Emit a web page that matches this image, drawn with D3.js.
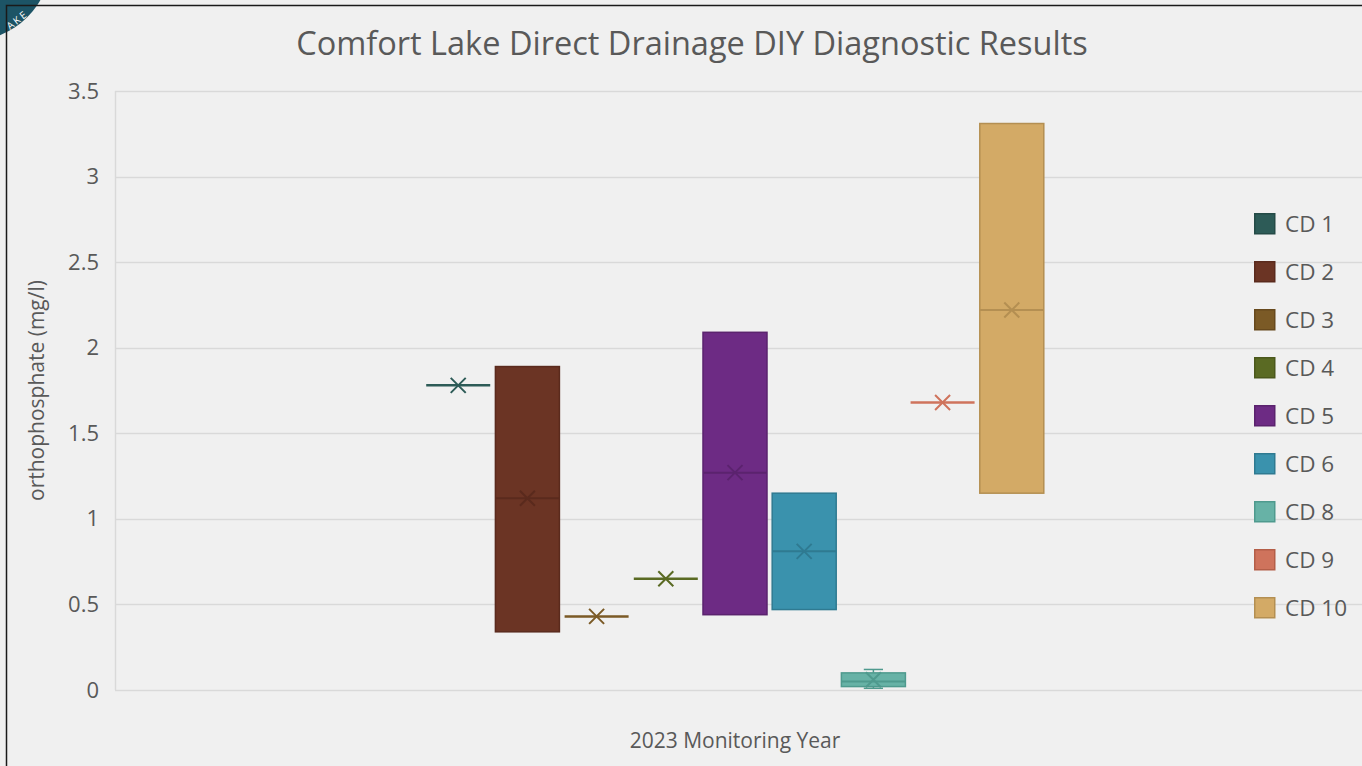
<!DOCTYPE html>
<html>
<head>
<meta charset="utf-8">
<script src="https://cdn.jsdelivr.net/npm/d3@7"></script>
<style>
  body { margin: 0; background: #f0f0f0; }
  svg { display: block; }
  text { font-family: "Open Sans", "Noto Sans", sans-serif; fill: #595959; }
</style>
</head>
<body>
<div id="chart"></div>
<script>
// data
let category = "2023 Monitoring Year";
let seriesNames = ["CD 1", "CD 2", "CD 3", "CD 4", "CD 5", "CD 6", "CD 8", "CD 9", "CD 10"];
let minVals  = [1.78, 0.34, 0.43, 0.65, 0.44, 0.47, 0.01, 1.68, 1.15];
let q1Vals   = [1.78, 0.34, 0.43, 0.65, 0.44, 0.47, 0.02, 1.68, 1.15];
let medVals  = [1.78, 1.12, 0.43, 0.65, 1.27, 0.81, 0.05, 1.68, 2.22];
let q3Vals   = [1.78, 1.89, 0.43, 0.65, 2.09, 1.15, 0.10, 1.68, 3.31];
let maxVals  = [1.78, 1.89, 0.43, 0.65, 2.09, 1.15, 0.12, 1.68, 3.31];
let meanVals = [1.78, 1.12, 0.43, 0.65, 1.27, 0.81, 0.06, 1.68, 2.22];
let yTicks = [0, 0.5, 1, 1.5, 2, 2.5, 3, 3.5];
let fills   = ["#2d5b57", "#6b3424", "#7b5a26", "#5a6a23", "#6d2b84", "#3a92ad", "#67b2a6", "#cf735c", "#d3aa66"];
let strokes = ["#254b47", "#5a2a1d", "#67491d", "#4b581c", "#5b236e", "#2f7a91", "#4f9a8e", "#b45e48", "#b48f52"];

let width = 1362;
let height = 766;
let plot = { left: 115, right: 1355, gridRight: 1362, top: 91, bottom: 690 };

let svg = d3.select("#chart").append("svg")
    .attr("width", width)
    .attr("height", height);

svg.append("rect").attr("width", width).attr("height", height).attr("fill", "#f0f0f0");

// scales
let x0 = d3.scaleBand().domain([category]).range([plot.left, plot.right]).paddingOuter(0.495);
let x1 = d3.scaleBand().domain(seriesNames).range([0, x0.bandwidth()]).paddingInner(0.075).paddingOuter(0.04);
let y = d3.scaleLinear().domain([0, 3.5]).range([plot.bottom, plot.top]);

// gridlines
svg.append("g").selectAll("line").data(yTicks).enter().append("line")
    .attr("x1", plot.left).attr("x2", plot.gridRight)
    .attr("y1", d => Math.round(y(d)) + 0.5).attr("y2", d => Math.round(y(d)) + 0.5)
    .attr("stroke", "#d9d9d9").attr("stroke-width", 1.5);

svg.append("line")
    .attr("x1", plot.left + 0.5).attr("x2", plot.left + 0.5)
    .attr("y1", plot.top).attr("y2", plot.bottom)
    .attr("stroke", "#d9d9d9").attr("stroke-width", 1.5);

// y axis tick labels
let yAxis = d3.axisLeft(y).tickValues(yTicks).tickSize(0).tickPadding(16).tickFormat(d3.format("~g"));
let gY = svg.append("g").attr("transform", `translate(${plot.left},0)`).call(yAxis);
gY.select(".domain").remove();
gY.selectAll("text").attr("font-size", "22px").attr("fill", "#595959")
    .style("font-family", '"Open Sans", sans-serif');

// boxes
let data = seriesNames.map((s, i) => ({
    name: s, min: minVals[i], q1: q1Vals[i], med: medVals[i], q3: q3Vals[i],
    max: maxVals[i], mean: meanVals[i], fill: fills[i], stroke: strokes[i]
}));

let gBox = svg.append("g").attr("transform", `translate(${x0(category)},0)`);
let bw = x1.bandwidth();

data.forEach(d => {
    let g = gBox.append("g").attr("transform", `translate(${x1(d.name)},0)`);
    let cx = bw / 2;
    let isBox = d.q3 > d.q1;
    if (d.max > d.q3 || d.min < d.q1) {
        let capW = bw * 0.3;
        [[d.q3, d.max], [d.q1, d.min]].forEach(p => {
            g.append("line").attr("x1", cx).attr("x2", cx).attr("y1", y(p[0])).attr("y2", y(p[1]))
                .attr("stroke", d.stroke).attr("stroke-width", 1.5);
            g.append("line").attr("x1", cx - capW / 2).attr("x2", cx + capW / 2).attr("y1", y(p[1])).attr("y2", y(p[1]))
                .attr("stroke", d.stroke).attr("stroke-width", 1.5);
        });
    }
    if (isBox) {
        g.append("rect")
            .attr("x", 0).attr("y", y(d.q3))
            .attr("width", bw).attr("height", y(d.q1) - y(d.q3))
            .attr("fill", d.fill).attr("stroke", d.stroke).attr("stroke-width", 1.5);
        g.append("line").attr("x1", 0).attr("x2", bw).attr("y1", y(d.med)).attr("y2", y(d.med))
            .attr("stroke", d.stroke).attr("stroke-width", 2);
    } else {
        g.append("line").attr("x1", 0).attr("x2", bw).attr("y1", y(d.med)).attr("y2", y(d.med))
            .attr("stroke", d.fill).attr("stroke-width", 2.5);
    }
    // mean marker
    let m = 7.5;
    let my = y(d.mean);
    g.append("path")
        .attr("d", `M${cx - m},${my - m}L${cx + m},${my + m}M${cx - m},${my + m}L${cx + m},${my - m}`)
        .attr("stroke", isBox ? d.stroke : d.fill).attr("stroke-width", 2).attr("fill", "none");
});

// title and axis titles
svg.append("text").attr("x", 692).attr("y", 55).attr("text-anchor", "middle")
    .attr("font-size", "32.5px").text("Comfort Lake Direct Drainage DIY Diagnostic Results");

svg.append("text").attr("x", x0(category) + x0.bandwidth() / 2).attr("y", 748).attr("text-anchor", "middle")
    .attr("font-size", "21px").text(category);

svg.append("text").attr("transform", `translate(44,${(plot.top + plot.bottom) / 2}) rotate(-90)`)
    .attr("text-anchor", "middle").attr("font-size", "21px").text("orthophosphate (mg/l)");

// legend
let legend = svg.append("g").attr("transform", "translate(1254,213)");
let items = legend.selectAll("g").data(data).enter().append("g")
    .attr("transform", (d, i) => `translate(0,${i * 48})`);
items.append("rect").attr("x", 0.75).attr("y", 0.75).attr("width", 20).attr("height", 20)
    .attr("fill", d => d.fill).attr("stroke", d => d.stroke).attr("stroke-width", 1.5);
items.append("text").attr("x", 31).attr("y", 19).attr("font-size", "22.5px").text(d => d.name);

// frame and corner logo
svg.append("circle").attr("cx", -30).attr("cy", -40).attr("r", 81).attr("fill", "#1c5466");
svg.append("text").attr("transform", "translate(10,30) rotate(-38)")
    .attr("font-size", "10px").style("fill", "#ffffff").attr("letter-spacing", "2px").text("AKE");
svg.append("path").attr("d", `M6.5,${height}V5.5H${width}`)
    .attr("stroke", "#1a1a1a").attr("stroke-width", 1.5).attr("fill", "none");
</script>
</body>
</html>
